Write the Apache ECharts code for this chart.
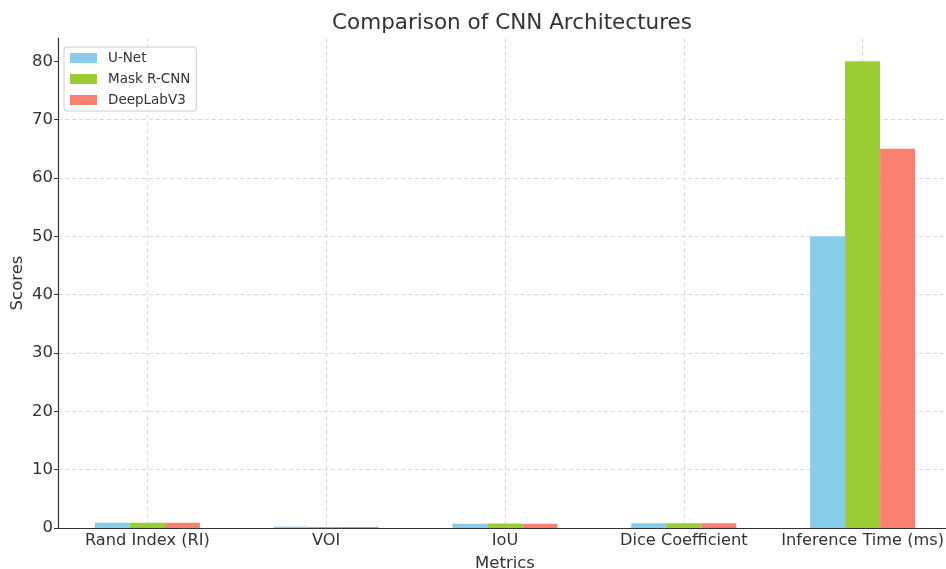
<!DOCTYPE html>
<html>
<head>
<meta charset="utf-8">
<script src="https://cdn.jsdelivr.net/npm/echarts@6/dist/echarts.min.js"></script>
<style>
  html, body { margin: 0; padding: 0; background: #fff; }
  #main { width: 946px; height: 569px; }
</style>
</head>
<body>
<div id="main"></div>
<script>
let metrics = ['Rand Index (RI)', 'VOI', 'IoU', 'Dice Coefficient', 'Inference Time (ms)'];
let unet = [0.89, 0.2, 0.72, 0.8, 50];
let maskRcnn = [0.91, 0.18, 0.76, 0.83, 80];
let deepLab = [0.90, 0.19, 0.74, 0.82, 65];
let yTicks = [0, 10, 20, 30, 40, 50, 60, 70, 80];

let chart = echarts.init(document.getElementById('main'));

let font = 'DejaVu Sans';
let grey = '#d9d9d9';

let option = {
  backgroundColor: '#fff',
  animation: false,
  textStyle: { fontFamily: font },
  title: {
    text: 'Comparison of CNN Architectures',
    left: 507,
    textAlign: 'center',
    top: 7,
    textStyle: { fontFamily: font, fontSize: 21.5, fontWeight: 'normal', color: '#333' }
  },
  legend: {
    orient: 'vertical',
    left: 64,
    top: 47,
    padding: [4, 6, 4, 6],
    itemWidth: 27,
    itemHeight: 10,
    itemGap: 7,
    borderColor: '#ccc',
    borderWidth: 1,
    borderRadius: 3,
    backgroundColor: 'rgba(255,255,255,0.85)',
    icon: 'rect',
    textStyle: { fontFamily: font, fontSize: 13.5, lineHeight: 14, color: '#333', padding: [0, 0, 0, 6] },
    data: ['U-Net', 'Mask R-CNN', 'DeepLabV3']
  },
  grid: { left: 58, right: -6, top: 38, bottom: 41, outerBoundsMode: 'none', containLabel: false },
  xAxis: {
    type: 'category',
    data: metrics,
    name: 'Metrics',
    nameLocation: 'middle',
    nameGap: 27,
    nameMoveOverlap: false,
    nameTextStyle: { fontFamily: font, fontSize: 16.5, color: '#333' },
    axisLine: { lineStyle: { color: '#333', width: 1.2 } },
    axisTick: { alignWithLabel: true, length: 4, lineStyle: { color: '#333' } },
    axisLabel: { interval: 0, fontFamily: font, fontSize: 16.2, color: '#333', margin: 5 },
    splitLine: { show: true, alignWithLabel: true, lineStyle: { color: grey, type: [4, 3] } }
  },
  yAxis: {
    type: 'value',
    min: 0,
    max: 84,
    interval: 10,
    name: 'Scores',
    nameLocation: 'middle',
    nameGap: 32,
    nameMoveOverlap: false,
    nameTextStyle: { fontFamily: font, fontSize: 16.5, color: '#333' },
    axisLine: { show: true, lineStyle: { color: '#333', width: 1.2 } },
    axisTick: { show: true, length: 4, lineStyle: { color: '#333' }, customValues: yTicks },
    axisLabel: { fontFamily: font, fontSize: 16.5, color: '#333', margin: 5, customValues: yTicks },
    splitLine: { show: true, showMaxLine: false, showMinLine: false, lineStyle: { color: grey, type: [4, 3] } }
  },
  series: [
    { name: 'U-Net', type: 'bar', data: unet, barWidth: 35, barGap: 0, itemStyle: { color: '#87CEEB' } },
    { name: 'Mask R-CNN', type: 'bar', data: maskRcnn, barWidth: 35, barGap: 0, itemStyle: { color: '#9ACD32' } },
    { name: 'DeepLabV3', type: 'bar', data: deepLab, barWidth: 35, barGap: 0, itemStyle: { color: '#FA8072' } }
  ]
};

chart.setOption(option);
</script>
</body>
</html>
